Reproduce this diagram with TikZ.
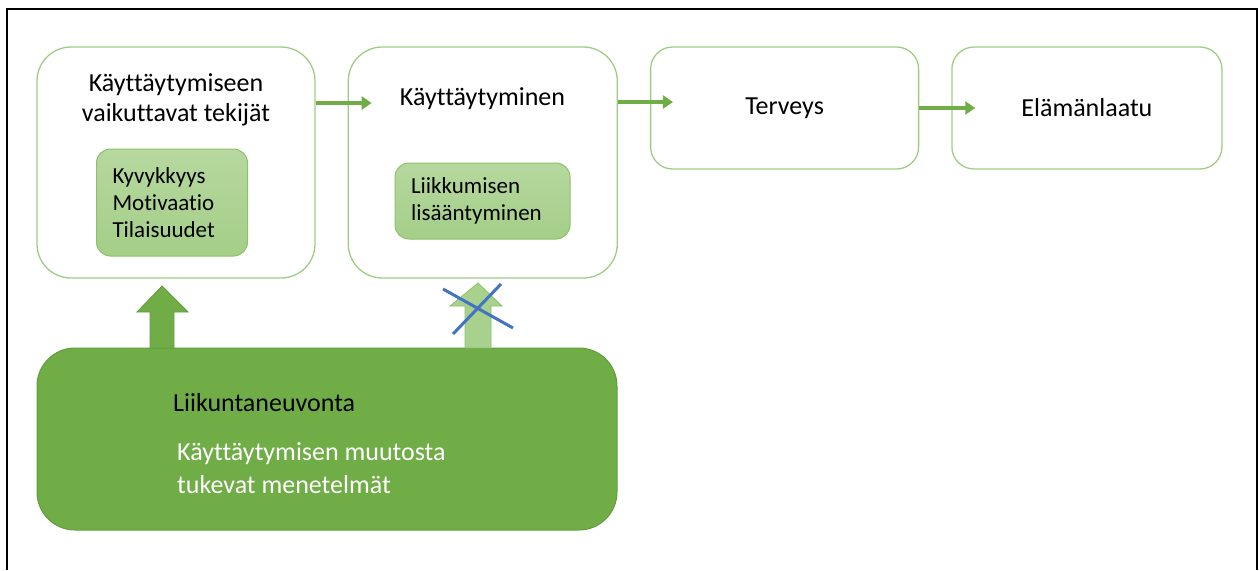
\documentclass[tikz,border=0pt]{standalone}
\usepackage{fontspec}
\setmainfont{Carlito}[Ligatures={NoCommon}]
\usetikzlibrary{arrows.meta,positioning,calc}

\definecolor{leafgreen}{HTML}{70AD47}
\definecolor{leafdark}{HTML}{629E3C}
\definecolor{paleleaf}{HTML}{A9D18E}
\definecolor{paleline}{HTML}{8CC16B}
\definecolor{boxline}{HTML}{9ECC84}
\definecolor{crossblue}{HTML}{4472C4}

\begin{document}
\begin{tikzpicture}[x=1pt, y=-1pt,
  tallbox/.style={rectangle, draw=boxline, line width=1.3pt,
    rounded corners=34pt, minimum height=231pt},
  flatbox/.style={rectangle, draw=boxline, line width=1.3pt,
    rounded corners=22pt, minimum width=268pt, minimum height=122pt,
    font=\fontsize{26}{30}\selectfont},
  headtext/.style={align=center, inner sep=0pt,
    font=\fontsize{26}{30}\selectfont},
  subbox/.style={rectangle, draw=paleline, line width=1pt,
    rounded corners=14pt, top color=paleleaf!85!white,
    bottom color=paleleaf!92!leafgreen, align=left, inner xsep=16pt,
    font=\fontsize{23}{27}\selectfont},
  flow/.style={-{Triangle[length=10pt, width=13pt]}, line width=3.6pt,
    leafgreen},
  pusharrow/.style={fill=leafgreen, draw=leafdark, line width=0.8pt},
  weakarrow/.style={fill=paleleaf, draw=paleline, line width=0.8pt},
  strike/.style={crossblue, line width=3pt},
]
  \useasboundingbox (0,0) rectangle (1260,570);
  % frame (open at the bottom)
  \draw[line width=2pt] (7,570) -- (7,9) -- (1257,9) -- (1257,570);

  % top row
  \node[tallbox, minimum width=278pt] (fac) at (176,162.5) {};
  \node[tallbox, minimum width=269pt, right=32pt of fac] (beh) {};
  \node[flatbox, anchor=north west] (health)
    at ([xshift=32pt]beh.north east) {Terveys};
  \node[flatbox, minimum width=270pt, right=32pt of health] (life)
    {Elämänlaatu};

  \node[headtext] (factitle) at (176,100)
    {Käyttäytymiseen\\vaikuttavat tekijät};
  \node[headtext] (behtitle) at (482.5,99) {Käyttäytyminen};

  \node[subbox, text width=119pt, minimum height=107pt] (factors)
    at (172,202.5) {Kyvykkyys\\Motivaatio\\Tilaisuudet};
  \node[subbox, text width=143pt, minimum height=76pt] (more)
    at (482.5,201) {Liikkumisen\\lisääntyminen};

  \draw[flow] (fac.east |- 0,103) -- ([xshift=24pt]beh.west |- 0,103);
  \draw[flow] (beh.east |- 0,102) -- ([xshift=23pt]health.west |- 0,102);
  \draw[flow] (health.east) -- ([xshift=24pt]life.west);

  % counselling
  \node[rectangle, fill=leafgreen, draw=leafdark, line width=1pt,
    rounded corners=38pt, minimum width=580pt, minimum height=182pt]
    (coach) at (327,439) {};
  \node[anchor=west, inner sep=0pt, font=\fontsize{26}{30}\selectfont]
    (coachtitle) at (173,403) {Liikuntaneuvonta};
  \node[anchor=west, inner sep=0pt, align=left, text=white,
    font=\fontsize{26}{33}\selectfont] (methods) at (177,468)
    {Käyttäytymisen muutosta\\tukevat menetelmät};

  % block arrows
  \draw[pusharrow] (150,348) -- (150,312) -- (137,312) -- (162,286)
    -- (188,312) -- (174,312) -- (174,348) -- cycle;
  \draw[weakarrow] (465,348) -- (465,306) -- (450,306) -- (478,283)
    -- (502,306) -- (491,306) -- (491,348) -- cycle;
  \draw[strike] (443,289) -- (513,328);
  \draw[strike] (453,334) -- (501,284);
\end{tikzpicture}
\end{document}
